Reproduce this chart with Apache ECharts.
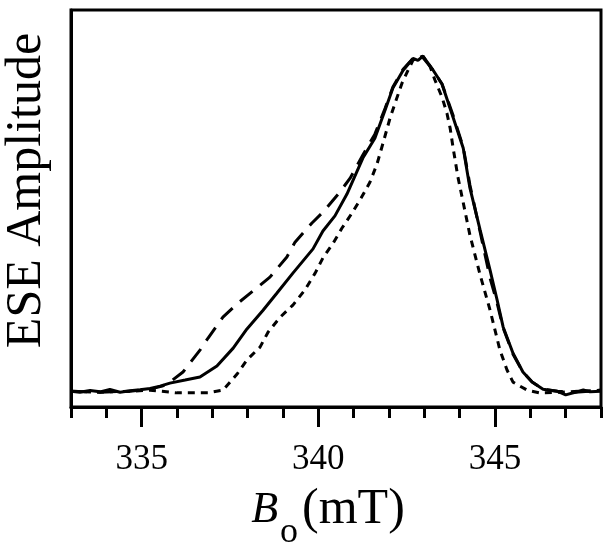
<!DOCTYPE html>
<html>
<head>
<meta charset="utf-8">
<script src="https://cdn.jsdelivr.net/npm/echarts@6/dist/echarts.min.js"></script>
<style>
  html, body { margin: 0; padding: 0; background: #fff; }
  #chart { width: 612px; height: 554px; }
</style>
</head>
<body>
<div id="chart"></div>
<script>
// field in mT, amplitude normalised to the peak
const solidX = [333.00, 333.25, 333.54, 333.82, 334.10, 334.39, 334.67, 334.95, 335.24, 335.52, 335.80, 336.23, 336.65, 337.13, 337.59, 337.98, 338.43, 338.83, 339.28, 339.85, 340.13, 340.47, 340.81, 341.26, 341.60, 341.89, 342.11, 342.40, 342.68, 342.82, 342.96, 343.25, 343.50, 343.81, 344.10, 344.29, 344.58, 344.86, 345.06, 345.23, 345.51, 345.79, 346.05, 346.36, 346.76, 347.00, 347.27, 347.50, 347.69, 348.00]
const solidY = [0.004, 0.001, 0.006, 0.002, 0.009, 0.001, 0.005, 0.008, 0.012, 0.019, 0.028, 0.037, 0.046, 0.079, 0.132, 0.189, 0.244, 0.296, 0.355, 0.427, 0.480, 0.525, 0.590, 0.697, 0.756, 0.840, 0.905, 0.958, 0.993, 0.987, 1.000, 0.958, 0.917, 0.819, 0.727, 0.608, 0.483, 0.364, 0.275, 0.195, 0.117, 0.061, 0.031, 0.010, 0.004, -0.007, 0.001, 0.008, 0.002, 0.004]

const shortX = [333.00, 333.82, 334.67, 335.24, 336.00, 336.45, 336.88, 337.30, 337.70, 337.98, 338.35, 338.58, 338.92, 339.28, 339.62, 339.91, 340.13, 340.42, 340.67, 340.95, 341.21, 341.46, 341.66, 341.83, 342.03, 342.23, 342.37, 342.54, 342.68, 342.96, 343.16, 343.30, 343.50, 343.64, 343.73, 343.81, 343.95, 344.29, 344.58, 344.86, 345.14, 345.34, 345.51, 345.91, 346.27, 346.84, 348.00]
const shortY = [0.004, 0.001, 0.004, 0.007, -0.001, -0.001, -0.001, 0.007, 0.055, 0.097, 0.135, 0.180, 0.224, 0.260, 0.305, 0.355, 0.400, 0.444, 0.489, 0.533, 0.578, 0.625, 0.679, 0.741, 0.816, 0.878, 0.920, 0.958, 0.988, 1.000, 0.970, 0.929, 0.878, 0.830, 0.786, 0.730, 0.641, 0.468, 0.349, 0.245, 0.126, 0.067, 0.031, 0.007, -0.001, 0.001, 0.007]

const longX = [333.00, 333.82, 334.67, 335.24, 335.58, 335.80, 336.17, 336.65, 336.88, 337.30, 337.73, 338.26, 338.63, 339.11, 339.34, 339.82, 340.13, 340.61, 340.90, 341.26, 341.60, 341.89, 342.11, 342.40, 342.68, 342.96, 343.25, 343.50, 343.81, 344.10, 344.29, 344.58, 344.86, 345.06, 345.23, 345.51, 345.79, 346.05, 346.36, 346.76, 347.27, 348.00]
const longY = [0.004, 0.001, 0.004, 0.010, 0.019, 0.031, 0.061, 0.126, 0.162, 0.224, 0.266, 0.311, 0.343, 0.403, 0.447, 0.504, 0.536, 0.596, 0.637, 0.706, 0.768, 0.845, 0.908, 0.961, 0.993, 0.996, 0.958, 0.917, 0.825, 0.730, 0.617, 0.477, 0.340, 0.266, 0.192, 0.114, 0.061, 0.031, 0.010, 0.004, 0.001, 0.007]

const xTickLabels = [335, 340, 345]

const pairs = (xs, ys) => xs.map((x, i) => [x, ys[i]])
const font = 'Liberation Serif'

const chart = echarts.init(document.getElementById('chart'))

const line = (name, xs, ys, type) => ({
  name,
  type: 'line',
  showSymbol: false,
  silent: true,
  data: pairs(xs, ys),
  lineStyle: { color: '#000', width: 3, type },
  z: 3
})

chart.setOption({
  animation: false,
  grid: {
    left: 71, right: 11, top: 10, bottom: 147,
    outerBoundsMode: 'none',
    containLabel: false,
    show: true, borderColor: '#000', borderWidth: 3
  },
  xAxis: [{
    type: 'value', min: 333, max: 348, interval: 1,
    position: 'bottom', offset: 0,
    axisLine: { show: true, onZero: false, lineStyle: { color: '#000', width: 3 } },
    axisTick: { show: true, inside: false, length: 11, lineStyle: { color: '#000', width: 3 } },
    axisLabel: {
      margin: 35, color: '#000', fontFamily: font, fontSize: 35,
      formatter: v => (xTickLabels.indexOf(v) >= 0 ? String(v) : '')
    },
    splitLine: { show: false },
    name: '{i|B}{s|o}{n|(mT)}',
    nameLocation: 'middle',
    nameGap: 62,
    nameTextStyle: {
      color: '#000', fontFamily: font, fontSize: 50,
      padding: [0, 16, 0, 0],
      rich: {
        i: { fontFamily: font, fontSize: 44, fontStyle: 'italic', color: '#000' },
        s: { fontFamily: font, fontSize: 36, color: '#000', padding: [46, 4, 0, 2] },
        n: { fontFamily: font, fontSize: 50, color: '#000' }
      }
    }
  }, {
    type: 'value', min: 333, max: 348,
    position: 'bottom', offset: 0,
    axisLine: { show: false, onZero: false },
    axisTick: { show: true, inside: false, length: 20, customValues: xTickLabels, lineStyle: { color: '#000', width: 3 } },
    axisLabel: { show: false },
    splitLine: { show: false }
  }],
  yAxis: {
    type: 'value', min: -0.043, max: 1.137,
    axisLine: { show: true, lineStyle: { color: '#000', width: 3 } },
    axisTick: { show: false },
    axisLabel: { show: false },
    splitLine: { show: false },
    name: 'ESE Amplitude',
    nameLocation: 'middle',
    nameGap: 19,
    nameTextStyle: { color: '#000', fontFamily: font, fontSize: 50, padding: [0, 0, 0, 36] }
  },
  series: [
    line('solid', solidX, solidY, 'solid'),
    line('long', longX, longY, [16, 10]),
    line('short', shortX, shortY, [7, 6])
  ]
})
</script>
</body>
</html>
